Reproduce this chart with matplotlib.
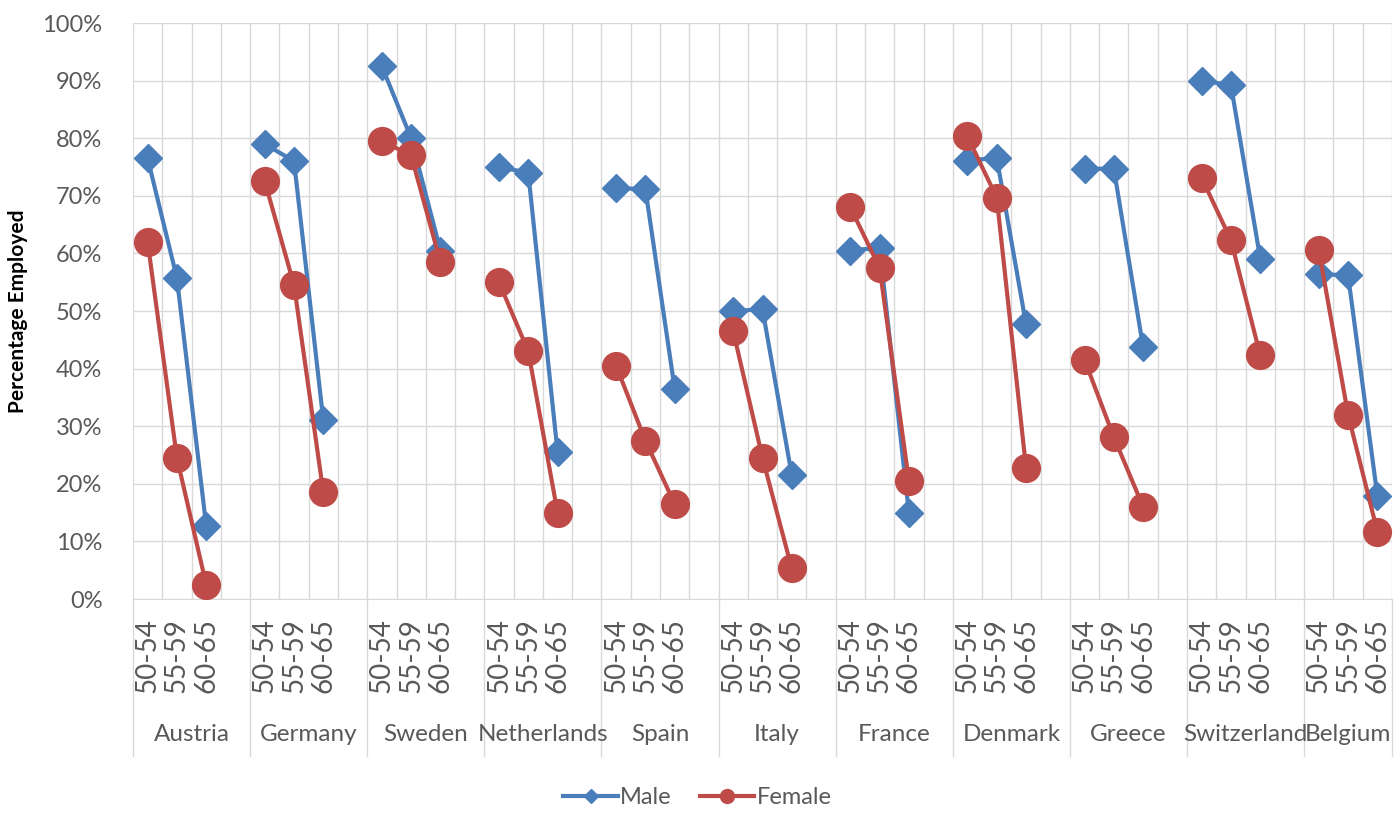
import numpy as np
import matplotlib.pyplot as plt
from matplotlib.lines import Line2D
from matplotlib.ticker import PercentFormatter

# data (percentage employed)
countries = ['Austria', 'Germany', 'Sweden', 'Netherlands', 'Spain', 'Italy',
             'France', 'Denmark', 'Greece', 'Switzerland', 'Belgium']
ages = ['50-54', '55-59', '60-65']

male = [[76.5, 55.7, 12.7],
        [79.0, 76.0, 31.0],
        [92.5, 80.0, 60.5],
        [75.0, 74.0, 25.5],
        [71.3, 71.2, 36.5],
        [50.0, 50.3, 21.5],
        [60.5, 61.0, 15.0],
        [76.1, 76.6, 47.7],
        [74.7, 74.7, 43.7],
        [90.0, 89.2, 59.1],
        [56.4, 56.2, 17.9]]
female = [[62.0, 24.5, 2.5],
          [72.5, 54.5, 18.5],
          [79.5, 77.0, 58.5],
          [55.0, 43.0, 15.0],
          [40.5, 27.5, 16.5],
          [46.5, 24.5, 5.3],
          [68.0, 57.5, 20.5],
          [80.3, 69.7, 22.8],
          [41.5, 28.1, 16.0],
          [73.1, 62.3, 42.3],
          [60.6, 32.0, 11.7]]

blue = '#4a7ebb'
red = '#be4b48'
grid_c = '#d9d9d9'
txt_c = '#595959'
font = 'Lato'

fig = plt.figure(figsize=(13.95, 8.15), dpi=100)
ax = fig.add_axes([133 / 1395, 1 - 599 / 815, 1259 / 1395, 576 / 815])

# each country takes 3 category slots plus one empty slot (not after the last)
n = len(countries)
ncat = 4 * n - 1
for i in range(n):
    xs = [4 * i + k for k in range(len(ages))]
    ax.plot(xs, male[i], color=blue, lw=3, marker='D', ms=14, zorder=3)
    ax.plot(xs, female[i], color=red, lw=3, marker='o', ms=20, zorder=4)

ax.set_xlim(-0.5, ncat - 0.5)
ax.set_ylim(0, 100)
ax.set_yticks(np.arange(0, 101, 10))
ax.yaxis.set_major_formatter(PercentFormatter(decimals=0))

labels = []
for i in range(n):
    labels += ages
    if i < n - 1:
        labels.append('')
ax.set_xticks(range(ncat))
ax.set_xticklabels(labels, rotation=90, fontsize=20, color=txt_c, family=font)
ax.set_xticks(np.arange(-0.5, ncat, 1), minor=True)
ax.tick_params(axis='x', which='both', length=0, pad=14)
ax.tick_params(axis='y', length=0, pad=22, labelsize=17, labelcolor=txt_c)
for t in ax.get_yticklabels():
    t.set_family(font)

ax.grid(axis='y', color=grid_c, lw=1)
ax.grid(axis='x', which='minor', color=grid_c, lw=1)
ax.grid(axis='x', which='major', visible=False)
ax.set_axisbelow(True)
for s in ax.spines.values():
    s.set_visible(False)
ax.spines['bottom'].set_visible(True)
ax.spines['bottom'].set_color(grid_c)

# second level of the category axis: country names with separators
trans = ax.get_xaxis_transform()
for i, name in enumerate(countries):
    x0 = 4 * i - 0.5
    x1 = min(4 * i + 3.5, ncat - 0.5)
    ax.plot([x0, x0], [0, -0.272], transform=trans, color=grid_c, lw=1,
            clip_on=False)
    ax.text((x0 + x1) / 2, -0.236, name, transform=trans, ha='center',
            va='center', fontsize=17.5, color=txt_c, family=font)
ax.plot([ncat - 0.5, ncat - 0.5], [0, -0.272], transform=trans, color=grid_c,
        lw=1, clip_on=False)

fig.text(18 / 1395, 1 - 311 / 815, 'Percentage Employed', rotation=90,
         ha='center', va='center', fontsize=15, fontweight='bold',
         family=font)

handles = [Line2D([], [], color=blue, lw=3, marker='D', ms=7),
           Line2D([], [], color=red, lw=3, marker='o', ms=10)]
fig.legend(handles, ['Male', 'Female'], loc='center', ncol=2,
           bbox_to_anchor=(0.5, 1 - 798 / 815), frameon=False,
           prop={'family': font, 'size': 17}, labelcolor=txt_c,
           handlelength=2.3, handletextpad=0.1, columnspacing=1.2)

fig.savefig('out.png', dpi=100)
